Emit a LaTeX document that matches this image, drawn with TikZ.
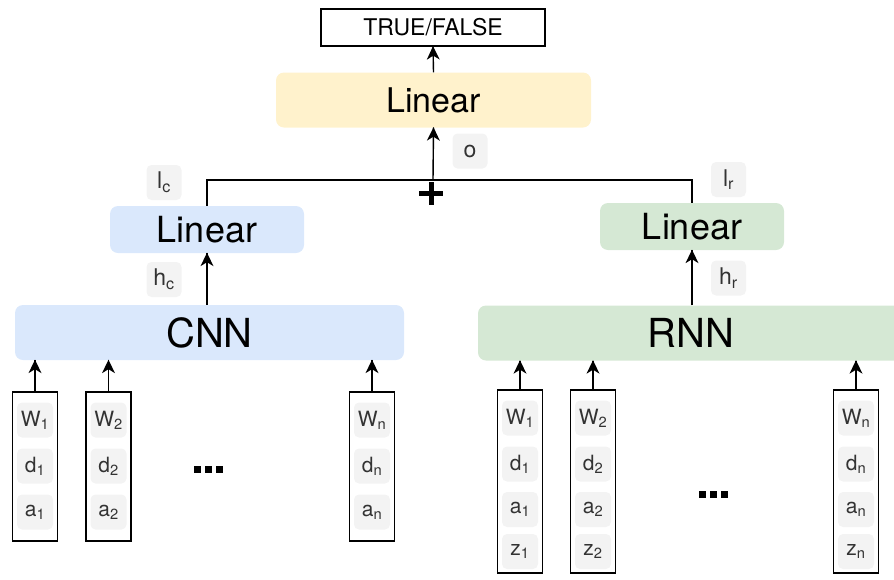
\documentclass[tikz,border=0pt]{standalone}
\usepackage{fontspec}
\setmainfont{TeX Gyre Heros}
\usetikzlibrary{calc,decorations.markings}
\definecolor{yelfill}{HTML}{FFF2CC}
\definecolor{bluefill}{HTML}{DAE8FC}
\definecolor{greenfill}{HTML}{D5E8D4}
\definecolor{tagfill}{HTML}{F3F3F3}
\definecolor{tagtext}{HTML}{333333}

\tikzset{
  block/.style={rounded corners=8pt, minimum height=55pt, inner sep=0pt},
  tag/.style={fill=tagfill, rounded corners=5pt, minimum width=35pt,
    minimum height=35pt, text=tagtext, inner sep=0pt,
    font=\fontsize{23}{26}\selectfont},
  cell/.style={tag, minimum width=36pt, font=\fontsize{21}{24}\selectfont},
  column/.style={draw, line width=1.6pt, minimum width=45pt, inner sep=0pt},
  wire/.style={line width=1.4pt},
  % connector with a filled, notched arrowhead at its end
  flow/.style={wire, postaction={decorate}, decoration={markings,
    mark=at position 1 with {\fill (0.5pt,0pt) -- (-13pt,6.5pt) -- (-9pt,0pt)
      -- (-13pt,-6.5pt) -- cycle;}}},
  ellip/.style={inner sep=0pt},
}
\newcommand{\sqdot}{\rule{7pt}{7pt}}

\begin{document}
\begin{tikzpicture}[x=1pt,y=-1pt]
\useasboundingbox (0,0) rectangle (894,579);

% output and final classifier
\node[draw, line width=1.3pt, minimum width=224pt, minimum height=37pt,
      inner sep=0pt, font=\fontsize{23}{25}\selectfont] (tf) at (433,27.5) {TRUE/FALSE};
\node[block, fill=yelfill, minimum width=315pt, font=\fontsize{34}{36}\selectfont]
      (lintop) at (433.5,100) {Linear};
\node[tag] (o) at (470,151) {o};

% CNN branch
\node[block, fill=bluefill, minimum width=194pt, minimum height=47pt,
      font=\fontsize{36}{38}\selectfont] (linl) at (207,229.5) {Linear};
\node[tag] (lc) at (164,182.5) {l\textsubscript{c}};
\node[tag] (hc) at (164,279.5) {h\textsubscript{c}};
\node[block, fill=bluefill, minimum width=389pt, font=\fontsize{40}{44}\selectfont]
      (cnn) at (209.5,332.5) {CNN};

% RNN branch
\node[block, fill=greenfill, minimum width=184pt, minimum height=47pt,
      font=\fontsize{36}{38}\selectfont] (linr) at (692,226.5) {Linear};
\node[tag] (lr) at (728.5,179.5) {l\textsubscript{r}};
\node[tag] (hr) at (728.5,278) {h\textsubscript{r}};
\node[block, fill=greenfill, minimum width=426pt, font=\fontsize{40}{44}\selectfont]
      (rnn) at (691,333) {RNN};

% merging the two branches
\coordinate (sum) at (433,180);
\draw[wire] (linl.north) |- (sum) -| (linr.north);
\draw[line width=5pt] ($(sum)+(-14,13)$) -- ($(sum)+(10,13)$);
\draw[line width=5pt] ($(sum)+(-2,2)$) -- ($(sum)+(-2,25)$);
\draw[flow] (sum) -- (lintop.south);
\draw[flow] (lintop.north) -- (tf.south);
\draw[flow] (linl.south |- cnn.north) -- (linl.south);
\draw[flow] (linr.south |- rnn.north) -- (linr.south);

% CNN inputs
\foreach \nm/\x/\s in {cla/35/1, clb/108.5/2, cln/372/n}{
  \node[column, minimum height=149pt] (\nm) at (\x,466.5) {};
  \node[cell] (\nm-w) at (\x,420) {W\textsubscript{\s}};
  \node[cell] (\nm-d) at (\x,466) {d\textsubscript{\s}};
  \node[cell] (\nm-a) at (\x,512) {a\textsubscript{\s}};
  \draw[flow] (\nm.north) -- (\nm.north |- cnn.south);
}
\node[ellip] (dotsl) at (208,469) {\sqdot\hspace{4pt}\sqdot\hspace{4pt}\sqdot};

% RNN inputs
\foreach \nm/\x/\s in {rla/520/1, rlb/593/2, rln/856/n}{
  \node[column, minimum height=183pt] (\nm) at (\x,481.5) {};
  \node[cell] (\nm-w) at (\x,418) {W\textsubscript{\s}};
  \node[cell] (\nm-d) at (\x,464) {d\textsubscript{\s}};
  \node[cell] (\nm-a) at (\x,509.5) {a\textsubscript{\s}};
  \node[cell] (\nm-z) at (\x,551.5) {z\textsubscript{\s}};
  \draw[flow] (\nm.north) -- (\nm.north |- rnn.south);
}
\node[ellip] (dotsr) at (713,494) {\sqdot\hspace{4pt}\sqdot\hspace{4pt}\sqdot};
\end{tikzpicture}
\end{document}
